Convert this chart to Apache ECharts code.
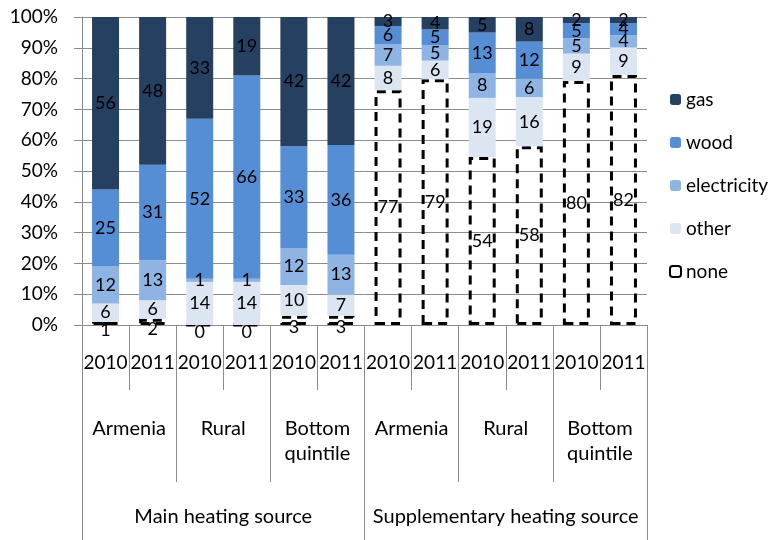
<!DOCTYPE html>
<html>
<head>
<meta charset="utf-8">
<script src="https://cdn.jsdelivr.net/npm/echarts@6/dist/echarts.min.js"></script>
<style>
  html, body { margin: 0; padding: 0; background: #fff; }
  #chart { width: 770px; height: 540px; }
</style>
</head>
<body>
<div id="chart"></div>
<script>
// Heating source shares (%) by year, area and heating type
const years = ['2010', '2011', '2010', '2011', '2010', '2011', '2010', '2011', '2010', '2011', '2010', '2011'];
const areas = ['Armenia', 'Rural', 'Bottom\nquintile', 'Armenia', 'Rural', 'Bottom\nquintile'];
const sourceTypes = ['Main heating source', 'Supplementary heating source'];
const yTicks = [0, 10, 20, 30, 40, 50, 60, 70, 80, 90, 100];

const none        = [1, 2, 0, 0, 3, 3, 77, 79, 54, 58, 80, 82];
const other       = [6, 6, 14, 14, 10, 7, 8, 6, 19, 16, 9, 9];
const electricity = [12, 13, 1, 1, 12, 13, 7, 5, 8, 6, 5, 4];
const wood        = [25, 31, 52, 66, 33, 36, 6, 5, 13, 12, 5, 4];
const gas         = [56, 48, 33, 19, 42, 42, 3, 4, 5, 8, 2, 2];

const FONT = 'Lato';
const GRAY = '#8c8c8c';

// Each column is drawn as a 100% stack: heights are shares of the column total
const rawSeries = [none, other, electricity, wood, gas];
const totals = years.map((_, i) => rawSeries.reduce((s, arr) => s + arr[i], 0));

function stackSeries(name, raw, color, extraStyle, lowLabels) {
  return {
    name: name,
    type: 'bar',
    stack: 'total',
    xAxisIndex: 0,
    barWidth: 27,
    data: raw.map((v, i) => {
      const item = { value: v / totals[i] * 100 };
      // tiny segments at the base get their label nudged onto the axis line
      if (lowLabels && v < 5) item.label = { offset: [0, 7] };
      return item;
    }),
    itemStyle: Object.assign({ color: color }, extraStyle || {}),
    label: {
      show: true,
      position: 'inside',
      color: '#000',
      fontFamily: FONT,
      fontSize: 18,
      formatter: p => String(raw[p.dataIndex])
    },
    emphasis: { disabled: true }
  };
}

const chart = echarts.init(document.getElementById('chart'), null, { renderer: 'canvas' });

chart.setOption({
  animation: false,
  backgroundColor: '#fff',
  grid: { left: 82, right: 123, top: 17, bottom: 215, containLabel: false },
  legend: {
    orient: 'vertical',
    left: 664,
    top: 85,
    itemWidth: 11,
    itemHeight: 11,
    itemGap: 24,
    textStyle: { fontFamily: FONT, fontSize: 19, color: '#000' },
    data: ['gas', 'wood', 'electricity', 'other', 'none']
  },
  xAxis: [
    {
      type: 'category',
      data: years,
      position: 'bottom',
      axisLine: { show: true, lineStyle: { color: GRAY, width: 1 } },
      axisTick: { show: true, interval: 0, length: 65, lineStyle: { color: GRAY } },
      axisLabel: { interval: 0, margin: 28, color: '#000', fontFamily: FONT, fontSize: 19 }
    },
    {
      type: 'category',
      data: areas,
      position: 'bottom',
      axisLine: { show: false },
      axisTick: { show: true, interval: 0, length: 157, lineStyle: { color: GRAY } },
      axisLabel: { interval: 0, margin: 91, color: '#000', fontFamily: FONT, fontSize: 20, lineHeight: 25 }
    },
    {
      type: 'category',
      data: sourceTypes,
      position: 'bottom',
      axisLine: { show: false },
      axisTick: { show: true, interval: 0, length: 215, lineStyle: { color: GRAY } },
      axisLabel: { interval: 0, margin: 182, color: '#000', fontFamily: FONT, fontSize: 20 }
    }
  ],
  yAxis: {
    type: 'value',
    min: yTicks[0],
    max: yTicks[yTicks.length - 1],
    interval: yTicks[1] - yTicks[0],
    axisLine: { show: true, lineStyle: { color: GRAY } },
    axisTick: { show: true, length: 8, lineStyle: { color: GRAY } },
    axisLabel: { margin: 24, color: '#000', fontFamily: FONT, fontSize: 19, formatter: v => v + '%' },
    splitLine: { show: true, lineStyle: { color: GRAY, width: 1 } }
  },
  series: [
    stackSeries('none', none, 'rgba(255,255,255,0)', { borderColor: '#000', borderWidth: 3, borderType: [9, 6] }, true),
    stackSeries('other', other, '#dce6f2'),
    stackSeries('electricity', electricity, '#8eb4e3'),
    stackSeries('wood', wood, '#558ed5'),
    stackSeries('gas', gas, '#254061')
  ]
});
</script>
</body>
</html>
